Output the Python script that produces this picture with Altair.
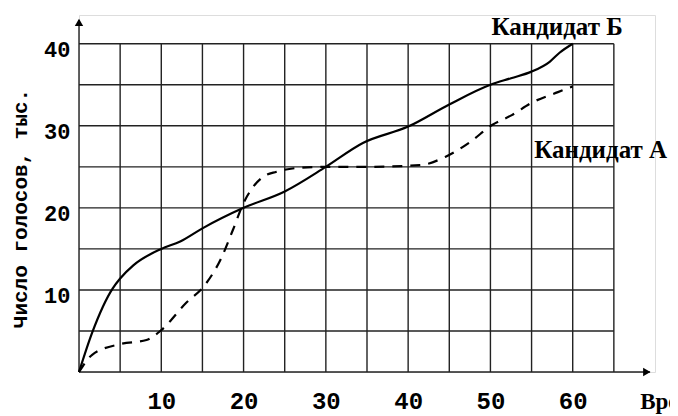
import altair as alt
import pandas as pd

# Candidate B (solid)
b_time = [0, 1.6, 4.1, 5, 6.6, 10, 12.3, 15, 20, 25, 30, 34.5, 40, 45, 50, 52.5, 55, 57.2, 58.4, 60]
b_votes = [0, 4.8, 10.2, 11.4, 13.0, 15.0, 15.9, 17.5, 20.0, 22.0, 25.0, 27.9, 29.9, 32.6, 35.0, 35.8, 36.6, 37.8, 38.9, 40.0]

# Candidate A (dashed)
a_time = [0, 1.6, 5, 8.2, 10, 13, 15.3, 17.3, 18.7, 20, 21.2, 22.4, 24, 27, 30, 35, 41.4, 44.5, 47.5, 50.2, 52.6, 55, 58.2, 60]
a_votes = [0, 2.1, 3.4, 3.9, 5.1, 8.4, 10.6, 13.9, 17.3, 20.6, 22.6, 23.8, 24.4, 24.9, 25.0, 25.0, 25.2, 26.2, 28.0, 30.1, 31.3, 32.8, 34.1, 34.8]

x_ticks = [10, 20, 30, 40, 50, 60]
y_ticks = [10, 20, 30, 40]
grid_x = [5, 10, 15, 20, 25, 30, 35, 40, 45, 50, 55, 60, 65]
grid_y = [5, 10, 15, 20, 25, 30, 35, 40]
x_max, y_max = 70, 43.5
grid_x_end, grid_y_end = 65, 40

labels = ["Кандидат Б", "Кандидат А"]
label_x = [58.1, 63.4]
label_y = [42.0, 27.0]
x_title = "Время"
y_title = "Число голосов, тыс."

lines_df = pd.concat([
    pd.DataFrame({"t": b_time, "v": b_votes, "c": "Б"}),
    pd.DataFrame({"t": a_time, "v": a_votes, "c": "А"}),
])

rules = []
for gx in grid_x:
    rules.append({"x": gx, "x2": gx, "y": 0, "y2": grid_y_end})
for gy in grid_y:
    rules.append({"x": 0, "x2": grid_x_end, "y": gy, "y2": gy})
rules.append({"x": 0, "x2": x_max - 0.6, "y": 0, "y2": 0})
rules.append({"x": 0, "x2": 0, "y": 0, "y2": y_max - 0.6})
rules_df = pd.DataFrame(rules)

xs = alt.Scale(domain=[0, x_max], nice=False, zero=False)
ys = alt.Scale(domain=[0, y_max], nice=False, zero=False)

xaxis = alt.Axis(values=x_ticks, title=None, grid=False, domain=False, ticks=False,
                 labelFont="Liberation Mono", labelFontWeight="bold", labelFontSize=24,
                 labelColor="black", labelPadding=17)
yaxis = alt.Axis(values=y_ticks, title=y_title, grid=False, domain=False, ticks=False,
                 labelFont="Liberation Mono", labelFontWeight="bold", labelFontSize=22,
                 labelColor="black", labelPadding=9, labelBaseline="middle", labelOffset=6,
                 titleFont="Liberation Mono", titleFontWeight="bold", titleFontSize=21,
                 titleColor="black", titleAngle=270, titleX=-59, titleY=193,
                 titleAlign="center", titleBaseline="middle")

grid = alt.Chart(rules_df).mark_rule(color="#222", strokeWidth=1.4).encode(
    x=alt.X("x:Q", scale=xs, axis=xaxis), x2="x2:Q",
    y=alt.Y("y:Q", scale=ys, axis=yaxis), y2="y2:Q",
)

arrows_df = pd.DataFrame({"x": [x_max - 1.0, 0], "y": [0, y_max - 0.9],
                          "s": ["triangle-right", "triangle-up"]})
arrows = alt.Chart(arrows_df).mark_point(filled=True, color="black", size=70, opacity=1).encode(
    x=alt.X("x:Q", scale=xs), y=alt.Y("y:Q", scale=ys),
    shape=alt.Shape("s:N", scale=None, legend=None),
)

line_b = alt.Chart(lines_df[lines_df.c == "Б"]).mark_line(
    color="black", strokeWidth=2.2, interpolate="monotone").encode(
    x=alt.X("t:Q", scale=xs), y=alt.Y("v:Q", scale=ys))
line_a = alt.Chart(lines_df[lines_df.c == "А"]).mark_line(
    color="black", strokeWidth=2.2, interpolate="monotone", strokeDash=[10, 8]).encode(
    x=alt.X("t:Q", scale=xs), y=alt.Y("v:Q", scale=ys))

lab_df = pd.DataFrame({"x": label_x, "y": label_y, "t": labels})
lab = alt.Chart(lab_df).mark_text(font="Liberation Serif", fontSize=25, fontWeight="bold",
                                  color="black", align="center", baseline="middle").encode(
    x=alt.X("x:Q", scale=xs), y=alt.Y("y:Q", scale=ys), text="t:N")

xt_df = pd.DataFrame({"x": [68.2], "y": [-3.6], "t": [x_title]})
xt = alt.Chart(xt_df).mark_text(font="Liberation Serif", fontSize=23, fontWeight="bold",
                                color="black", align="left", baseline="middle").encode(
    x=alt.X("x:Q", scale=xs), y=alt.Y("y:Q", scale=ys), text="t:N")

chart = alt.layer(grid, arrows, line_b, line_a, lab, xt).properties(
    width=576, height=357,
    autosize=alt.AutoSizeParams(type="none"),
    padding={"left": 71, "top": 7, "right": 15, "bottom": 44},
).configure_view(stroke=None).configure(background="white")

chart.save("out.html", embed_options={"renderer": "svg", "actions": False})
